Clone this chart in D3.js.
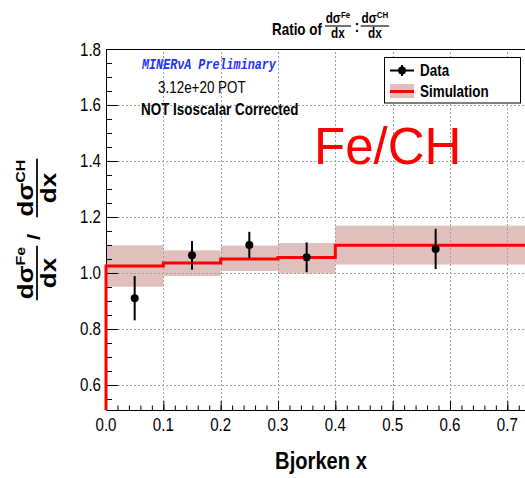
<!DOCTYPE html>
<html><head><meta charset="utf-8">
<script src="https://cdn.jsdelivr.net/npm/d3@7"></script>
<style>body{margin:0;background:#fff}svg{display:block}</style>
</head><body>
<script>
// ---- data ----
const dataX = [0.05, 0.15, 0.25, 0.35, 0.575];
const dataY = [0.91, 1.063, 1.10, 1.056, 1.086];
const dataErr = [0.079, 0.051, 0.047, 0.053, 0.072];
const simEdges = [0, 0.1, 0.2, 0.3, 0.4, 0.75];
const simY = [1.025, 1.036, 1.05, 1.055, 1.099];
const simLo = [0.951, 0.989, 1.007, 0.998, 1.03];
const simHi = [1.099, 1.081, 1.098, 1.107, 1.169];
const xTicks = [0, 0.1, 0.2, 0.3, 0.4, 0.5, 0.6, 0.7];
const xTickLabels = ["0.0", "0.1", "0.2", "0.3", "0.4", "0.5", "0.6", "0.7"];
const yTicks = [0.6, 0.8, 1.0, 1.2, 1.4, 1.6, 1.8];
const yTickLabels = ["0.6", "0.8", "1.0", "1.2", "1.4", "1.6", "1.8"];
const xMinorTicks = d3.range(0, 0.75, 0.02).map(v => +v.toFixed(2));
const yMinorTicks = d3.range(0.55, 1.8001, 0.05).map(v => +v.toFixed(2));

const W = 525, H = 478;
const SX = 0.84; // horizontal text compression
const FONT = "'Liberation Sans', Arial, Helvetica, sans-serif";
const bandColor = "#dfc0bc";

const svg = d3.select("body").append("svg").attr("width", W).attr("height", H)
  .style("font-family", FONT);

const x = d3.scaleLinear().domain([0, 0.75]).range([106, 106 + 0.75 * 573.3]);
const y = d3.scaleLinear().domain([0.5107, 1.8]).range([410, 49]);
const [y0, y1] = y.domain();

// band
svg.append("g").selectAll("rect").data(simY).join("rect")
  .attr("x", (d, i) => x(simEdges[i]))
  .attr("width", (d, i) => x(simEdges[i + 1]) - x(simEdges[i]))
  .attr("y", (d, i) => y(simHi[i]))
  .attr("height", (d, i) => y(simLo[i]) - y(simHi[i]))
  .attr("fill", bandColor);

// grid
const grid = svg.append("g").attr("stroke", "#a0a0a0").attr("stroke-width", 1)
  .attr("stroke-dasharray", "2,2");
grid.selectAll(".gx").data(xTicks.filter(v => v > 0)).join("line")
  .attr("x1", d => Math.round(x(d)) + 0.5).attr("x2", d => Math.round(x(d)) + 0.5)
  .attr("y1", y(y0)).attr("y2", y(y1));
grid.selectAll(".gy").data(yTicks.filter(v => v < 1.8)).join("line")
  .attr("y1", d => Math.round(y(d)) + 0.5).attr("y2", d => Math.round(y(d)) + 0.5)
  .attr("x1", x(0)).attr("x2", W);

// axes ticks
const axisStyle = g => { g.selectAll("path,line").attr("stroke", "#000"); g.selectAll("text").remove(); };
svg.append("g").attr("transform", `translate(0,${y(y0)})`)
  .call(d3.axisBottom(x).tickValues(xTicks).tickSize(-9).tickSizeOuter(0).tickFormat(""))
  .call(axisStyle);
svg.append("g").attr("transform", `translate(0,${y(y0)})`)
  .call(d3.axisBottom(x).tickValues(xMinorTicks).tickSize(-4.5).tickSizeOuter(0).tickFormat(""))
  .call(axisStyle).select(".domain").remove();
svg.append("g").attr("transform", `translate(${x(0)},0)`)
  .call(d3.axisLeft(y).tickValues(yTicks).tickSize(-12).tickSizeOuter(0).tickFormat(""))
  .call(axisStyle);
svg.append("g").attr("transform", `translate(${x(0)},0)`)
  .call(d3.axisLeft(y).tickValues(yMinorTicks).tickSize(-6).tickSizeOuter(0).tickFormat(""))
  .call(axisStyle).select(".domain").remove();
// top frame
svg.append("line").attr("x1", x(0)).attr("x2", W).attr("y1", y(y1) + 0.5).attr("y2", y(y1) + 0.5)
  .attr("stroke", "#000");

// simulation step line
const pts = [[0, y0]];
simY.forEach((v, i) => { pts.push([simEdges[i], v]); pts.push([simEdges[i + 1], v]); });
svg.append("path").datum(pts)
  .attr("d", d3.line().x(d => x(d[0])).y(d => y(d[1])))
  .attr("fill", "none").attr("stroke", "#ff0000").attr("stroke-width", 3);

// data points
const dg = svg.append("g");
dg.selectAll("line").data(dataX).join("line")
  .attr("x1", d => x(d)).attr("x2", d => x(d))
  .attr("y1", (d, i) => y(dataY[i] + dataErr[i])).attr("y2", (d, i) => y(dataY[i] - dataErr[i]))
  .attr("stroke", "#000").attr("stroke-width", 2);
dg.selectAll("circle").data(dataX).join("circle")
  .attr("cx", d => x(d)).attr("cy", (d, i) => y(dataY[i])).attr("r", 4).attr("fill", "#000");

// tick labels
function ctext(px, py, str, opts = {}) {
  const t = svg.append("text").attr("transform", `translate(${px},${py}) scale(${SX},1)`)
    .attr("text-anchor", opts.anchor || "middle").attr("font-size", opts.size || 18)
    .attr("font-weight", opts.weight || "normal").attr("fill", opts.fill || "#000").text(str);
  if (opts.family) t.attr("font-family", opts.family);
  if (opts.style) t.attr("font-style", opts.style);
  return t;
}
xTicks.forEach((v, i) => ctext(x(v), 431, xTickLabels[i], { size: 18 }));
yTicks.forEach((v, i) => ctext(101, y(v) + 6.5, yTickLabels[i], { size: 18, anchor: "end" }));

// x title
ctext(321, 469, "Bjorken x", { size: 24, weight: "bold" });

// fraction helper (in local coords, centered at cx, bar at y=0)
function frac(g, cx, sup, fs, ss) {
  const num = g.append("text").attr("font-weight", "bold").attr("font-size", fs)
    .attr("text-anchor", "middle").attr("x", cx).attr("y", -fs * 0.18);
  num.append("tspan").text("dσ");
  num.append("tspan").attr("font-size", ss).attr("dy", -fs * 0.38).text(sup);
  const den = g.append("text").attr("font-weight", "bold").attr("font-size", fs)
    .attr("text-anchor", "middle").attr("x", cx).attr("y", fs * 0.86).text("dx");
  const w = Math.max(num.node().getComputedTextLength(), den.node().getComputedTextLength());
  g.append("line").attr("x1", cx - w / 2 - 1).attr("x2", cx + w / 2 + 1)
    .attr("y1", 0).attr("y2", 0).attr("stroke", "#000").attr("stroke-width", Math.max(1, fs * 0.08));
  return w;
}

// title
const tg = svg.append("g").attr("transform", `translate(272,26) scale(${SX},1)`);
const rt = tg.append("text").attr("font-weight", "bold").attr("font-size", 16).attr("y", 9).text("Ratio of ");
let cx = rt.node().getComputedTextLength() + 2;
frac(tg.append("g"), cx + 17, "Fe", 14, 9.5);
tg.append("text").attr("font-weight", "bold").attr("font-size", 16).attr("x", cx + 37).attr("y", 6).text(":");
frac(tg.append("g"), cx + 61, "CH", 14, 9.5);

// y title
const yg = svg.append("g").attr("transform", `translate(37,228) scale(${SX},1) rotate(-90)`);
frac(yg.append("g"), -45, "Fe", 26, 16);
yg.append("text").attr("font-weight", "bold").attr("font-size", 22).attr("x", -9).attr("y", 4)
  .attr("text-anchor", "middle").text("/");
frac(yg.append("g"), 40, "CH", 26, 16);

// annotations
ctext(142, 69, "MINERνA Preliminary", { size: 14, anchor: "start", fill: "#1e32f0",
  family: "'Liberation Mono', 'DejaVu Sans Mono', monospace", style: "italic", weight: "bold" });
ctext(158, 93, "3.12e+20 POT", { size: 16, anchor: "start" });
ctext(141, 115, "NOT Isoscalar Corrected", { size: 16, anchor: "start", weight: "bold" });
svg.append("text").attr("x", 314).attr("y", 164).attr("font-size", 51).attr("fill", "#ff0000")
  .text("Fe/CH");

// legend
const lg = svg.append("g");
lg.append("rect").attr("x", 384.5).attr("y", 57.5).attr("width", 136).attr("height", 45.5)
  .attr("fill", "#fff").attr("stroke", "#000");
lg.append("line").attr("x1", 390).attr("x2", 414).attr("y1", 70.5).attr("y2", 70.5)
  .attr("stroke", "#000").attr("stroke-width", 2);
lg.append("line").attr("x1", 402).attr("x2", 402).attr("y1", 65).attr("y2", 76)
  .attr("stroke", "#000").attr("stroke-width", 2);
lg.append("circle").attr("cx", 402).attr("cy", 70.5).attr("r", 4).attr("fill", "#000");
lg.append("rect").attr("x", 390).attr("y", 84).attr("width", 24).attr("height", 14).attr("fill", bandColor);
lg.append("line").attr("x1", 390).attr("x2", 414).attr("y1", 91.5).attr("y2", 91.5)
  .attr("stroke", "#ff0000").attr("stroke-width", 3);
ctext(420, 76, "Data", { size: 16, anchor: "start", weight: "bold" });
ctext(420, 97, "Simulation", { size: 16, anchor: "start", weight: "bold" });
</script>
</body></html>
